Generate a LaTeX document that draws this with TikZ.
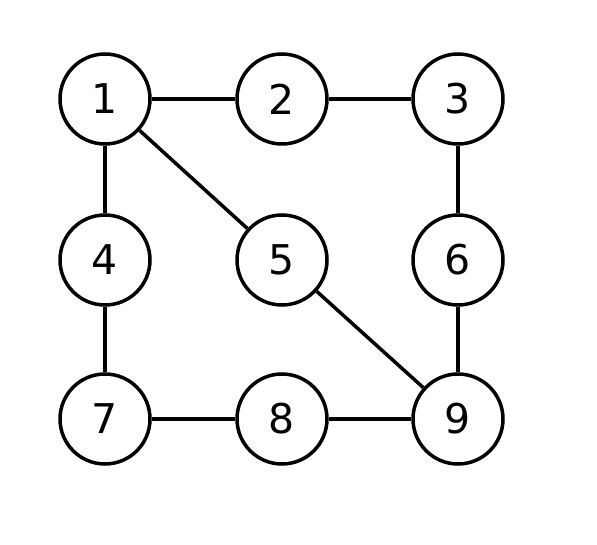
\documentclass[tikz,border=0pt]{standalone}
\usepackage{fontspec}
\setmainfont{DejaVu Sans}
\begin{document}
\begin{tikzpicture}[x=1pt,y=1pt,
  vtx/.style={circle,draw,line width=3.5pt,minimum size=90pt,inner sep=0pt,font=\fontsize{41}{41}\selectfont},
  edge/.style={line width=3.5pt}]
\useasboundingbox (0,0) rectangle (597,544);
\node[vtx] (n1) at (105,445) {1};
\node[vtx] (n2) at (282,445) {2};
\node[vtx] (n3) at (458,445) {3};
\node[vtx] (n4) at (105,284) {4};
\node[vtx] (n5) at (282,284) {5};
\node[vtx] (n6) at (458,284) {6};
\node[vtx] (n7) at (105,125) {7};
\node[vtx] (n8) at (282,125) {8};
\node[vtx] (n9) at (458,125) {9};
\draw[edge] (n1) -- (n2);
\draw[edge] (n2) -- (n3);
\draw[edge] (n1) -- (n4);
\draw[edge] (n1) -- (n5);
\draw[edge] (n3) -- (n6);
\draw[edge] (n4) -- (n7);
\draw[edge] (n5) -- (n9);
\draw[edge] (n6) -- (n9);
\draw[edge] (n7) -- (n8);
\draw[edge] (n8) -- (n9);
\end{tikzpicture}
\end{document}
